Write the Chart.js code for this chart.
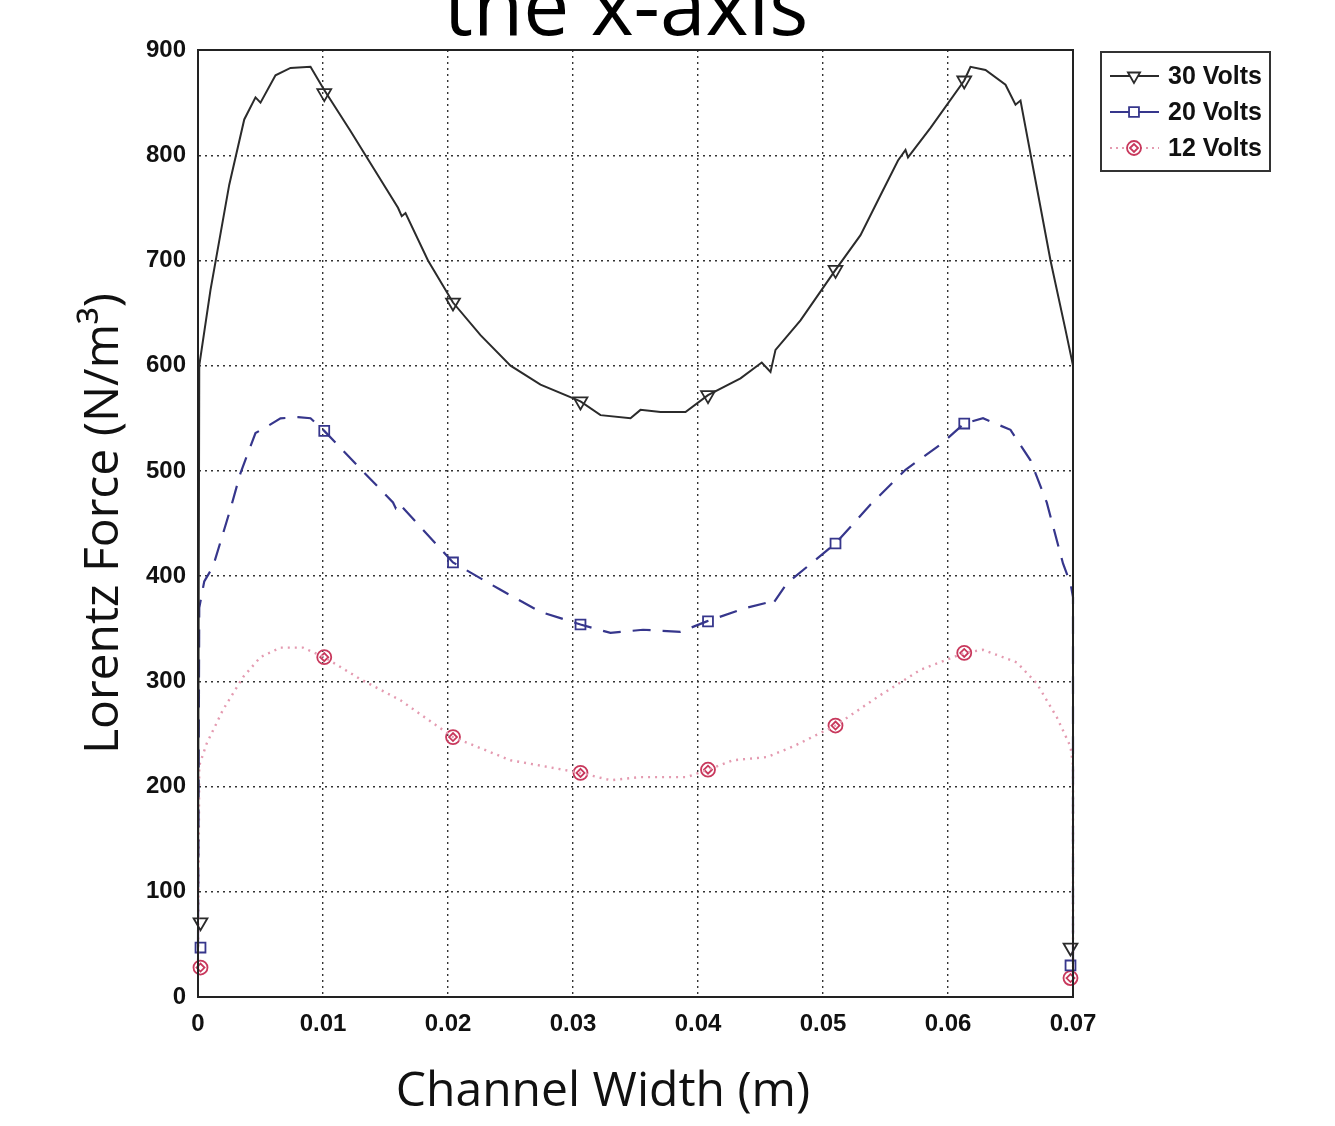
<!DOCTYPE html>
<html>
<head>
<meta charset="utf-8">
<title>Lorentz Force across the channel</title>
<script src="https://cdn.jsdelivr.net/npm/chart.js@4"></script>
<style>
  html, body { margin: 0; padding: 0; background: #fff; }
  #wrap { position: relative; width: 1335px; height: 1126px; }
</style>
</head>
<body>
<div id="wrap"><canvas id="lorentzChart" width="1335" height="1126"></canvas></div>
<script>
// --- data ---
const seriesNames = ['30 Volts', '20 Volts', '12 Volts'];
const xTickLabels = ['0', '0.01', '0.02', '0.03', '0.04', '0.05', '0.06', '0.07'];
const yTickLabels = ['0', '100', '200', '300', '400', '500', '600', '700', '800', '900'];

const x30 = [0, 0.0001, 0.001, 0.0025, 0.0037, 0.0046, 0.005, 0.0062, 0.0074, 0.009, 0.0096, 0.0101, 0.0122, 0.0134, 0.016, 0.0163, 0.0166, 0.0184, 0.0204, 0.0226, 0.025, 0.0274, 0.0306, 0.0322, 0.0346, 0.0354, 0.037, 0.039, 0.0408, 0.0434, 0.0451, 0.0458, 0.0462, 0.0482, 0.051, 0.053, 0.0546, 0.056, 0.0566, 0.0568, 0.0586, 0.0613, 0.0618, 0.063, 0.0646, 0.0654, 0.0658, 0.067, 0.0682, 0.0694, 0.07, 0.07];
const y30 = [72, 600, 672, 772, 834, 855, 850, 876, 883, 884, 872, 862, 823, 800, 750, 742, 745, 700, 660, 629, 600, 582, 566, 553, 550, 558, 556, 556, 572, 588, 603, 594, 615, 643, 691, 724, 762, 795, 805, 798, 826, 871, 884, 881, 867, 848, 852, 776, 700, 634, 600, 45];

const x20 = [0, 0.0001, 0.0005, 0.0012, 0.0026, 0.0034, 0.0046, 0.0055, 0.0066, 0.008, 0.009, 0.0101, 0.013, 0.0156, 0.0158, 0.016, 0.0204, 0.0242, 0.0274, 0.0306, 0.033, 0.0356, 0.0386, 0.0407, 0.0439, 0.0456, 0.0459, 0.0471, 0.051, 0.0538, 0.0566, 0.0594, 0.0613, 0.0628, 0.065, 0.0666, 0.0679, 0.0692, 0.0698, 0.07, 0.07];
const y20 = [47, 370, 395, 409, 464, 498, 536, 542, 550, 551, 550, 538, 502, 470, 465, 470, 413, 387, 366, 354, 346, 349, 347, 357, 370, 375, 372, 393, 431, 468, 501, 525, 545, 550, 539, 510, 470, 412, 393, 380, 28];

const x12 = [0, 0.0001, 0.0007, 0.002, 0.0036, 0.005, 0.0066, 0.0084, 0.0101, 0.013, 0.0162, 0.0204, 0.025, 0.0306, 0.033, 0.0354, 0.0391, 0.0408, 0.0428, 0.0455, 0.0476, 0.051, 0.0546, 0.0578, 0.0613, 0.0628, 0.0655, 0.0671, 0.0687, 0.0698, 0.07, 0.07];
const y12 = [28, 220, 241, 273, 304, 323, 332, 332, 323, 302, 282, 247, 225, 213, 206, 209, 209, 216, 225, 228, 238, 258, 287, 311, 327, 330, 318, 298, 266, 238, 220, 18];

// marker positions (every n-th mesh point in the original plot)
const markerX = [0.0002, 0.0101, 0.0204, 0.0306, 0.0408, 0.051, 0.0613, 0.0698];
const marker30 = [71, 859, 660, 566, 572, 691, 871, 47];
const marker20 = [47, 538, 413, 354, 357, 431, 545, 30];
const marker12 = [28, 323, 247, 213, 216, 258, 327, 18];

const toPoints = (xs, ys) => xs.map((x, i) => ({ x: x, y: ys[i] }));

const c30 = '#2b2b2b', c20 = '#36368c', c12 = '#e49ab0', m12 = '#c8385c';

const tickFont = { family: '"Liberation Sans", Arial, sans-serif', size: 24, weight: 'bold' };
const titleFont = { family: '"Open Sans", sans-serif', size: 48 };

function markerSet(ys, color, style, rot, r) {
  return {
    data: toPoints(markerX, ys),
    showLine: false,
    borderColor: color,
    backgroundColor: 'rgba(255,255,255,0)',
    pointStyle: style,
    pointRotation: rot,
    pointRadius: r,
    pointBorderWidth: 1.8,
    clip: false
  };
}

// plot box, x-axis caption and the big clipped heading at the very top
const framePlugin = {
  id: 'frame',
  afterDatasetsDraw(chart) {
    const { ctx, chartArea: a } = chart;
    ctx.save();
    ctx.strokeStyle = '#222';
    ctx.lineWidth = 2;
    ctx.strokeRect(a.left, a.top, a.right - a.left, a.bottom - a.top);
    ctx.restore();
  },
  afterDraw(chart) {
    const ctx = chart.ctx;
    ctx.save();
    ctx.fillStyle = '#000';
    ctx.textAlign = 'center';
    ctx.textBaseline = 'alphabetic';
    ctx.font = '82px "Open Sans", sans-serif';
    ctx.fillText('the x-axis', 626, 35);
    ctx.fillStyle = '#111';
    ctx.font = '48px "Open Sans", sans-serif';
    ctx.fillText('Channel Width (m)', 603, 1106);
    ctx.restore();
  }
};

// boxed legend to the right of the plot
const boxLegend = {
  id: 'boxLegend',
  afterDraw(chart) {
    const { ctx, chartArea: a } = chart;
    const x0 = a.right + 28, y0 = a.top + 2;
    const styles = [
      { color: c30, mark: c30, dash: [], point: 'triangle', rot: 180 },
      { color: c20, mark: c20, dash: [], point: 'rect', rot: 0 },
      { color: c12, mark: m12, dash: [2, 4], point: 'circle', rot: 0 }
    ];
    ctx.save();
    ctx.fillStyle = '#fff';
    ctx.fillRect(x0, y0, 169, 119);
    ctx.strokeStyle = '#333';
    ctx.lineWidth = 2;
    ctx.strokeRect(x0, y0, 169, 119);
    seriesNames.forEach((name, i) => {
      const s = styles[i];
      const yy = y0 + 24 + i * 36;
      ctx.strokeStyle = s.color;
      ctx.lineWidth = 1.8;
      ctx.setLineDash(s.dash);
      ctx.beginPath();
      ctx.moveTo(x0 + 9, yy);
      ctx.lineTo(x0 + 58, yy);
      ctx.stroke();
      ctx.setLineDash([]);
      if (Chart.helpers && Chart.helpers.drawPoint) {
        ctx.strokeStyle = s.mark;
        ctx.fillStyle = '#fff';
        Chart.helpers.drawPoint(ctx, { pointStyle: s.point, rotation: s.rot, radius: 7, borderWidth: 1.8 }, x0 + 33, yy);
        if (i === 2) {
          Chart.helpers.drawPoint(ctx, { pointStyle: 'rectRot', rotation: 0, radius: 4, borderWidth: 1.5 }, x0 + 33, yy);
        }
      }
      ctx.fillStyle = '#111';
      ctx.font = 'bold 25px "Liberation Sans", Arial, sans-serif';
      ctx.textAlign = 'left';
      ctx.textBaseline = 'middle';
      ctx.fillText(name, x0 + 67, yy + 1);
    });
    ctx.restore();
  }
};

const ctx = document.getElementById('lorentzChart').getContext('2d');
const lorentzChart = new Chart(ctx, {
  type: 'line',
  data: {
    datasets: [
      { label: seriesNames[0], data: toPoints(x30, y30), borderColor: c30, borderWidth: 2, pointRadius: 0, tension: 0, clip: false },
      { label: seriesNames[1], data: toPoints(x20, y20), borderColor: c20, borderWidth: 2.2, borderDash: [18, 12], pointRadius: 0, tension: 0, clip: false },
      { label: seriesNames[2], data: toPoints(x12, y12), borderColor: c12, borderWidth: 2.4, borderDash: [2, 5], pointRadius: 0, tension: 0, clip: false },
      markerSet(marker30, c30, 'triangle', 180, 8),
      markerSet(marker20, c20, 'rect', 0, 7),
      markerSet(marker12, m12, 'circle', 0, 7),
      markerSet(marker12, m12, 'rectRot', 0, 4)
    ]
  },
  options: {
    responsive: false,
    animation: false,
    layout: { padding: { top: 50, right: 262, left: 0, bottom: 0 } },
    plugins: {
      legend: { display: false },
      tooltip: { enabled: false }
    },
    scales: {
      x: {
        type: 'linear',
        min: 0,
        max: 0.07,
        afterFit: (s) => { s.height = 129; },
        ticks: {
          stepSize: 0.01,
          color: '#111',
          font: tickFont,
          padding: 13,
          maxRotation: 0,
          callback: (v, i) => xTickLabels[i]
        },
        grid: { color: '#333', lineWidth: 1.4, drawTicks: false },
        border: { display: true, color: '#222', width: 2, dash: [2, 4] },
        title: { display: false }
      },
      y: {
        min: 0,
        max: 900,
        afterFit: (s) => { s.width = 198; },
        ticks: {
          stepSize: 100,
          color: '#111',
          font: tickFont,
          padding: 12,
          callback: (v, i) => yTickLabels[i]
        },
        grid: { color: '#333', lineWidth: 1.4, drawTicks: false },
        border: { display: true, color: '#222', width: 2, dash: [2, 4] },
        title: { display: true, text: 'Lorentz Force (N/m³)', color: '#111', font: titleFont, padding: { top: 76, bottom: 0 } }
      }
    }
  },
  plugins: [framePlugin, boxLegend]
});
</script>
</body>
</html>
